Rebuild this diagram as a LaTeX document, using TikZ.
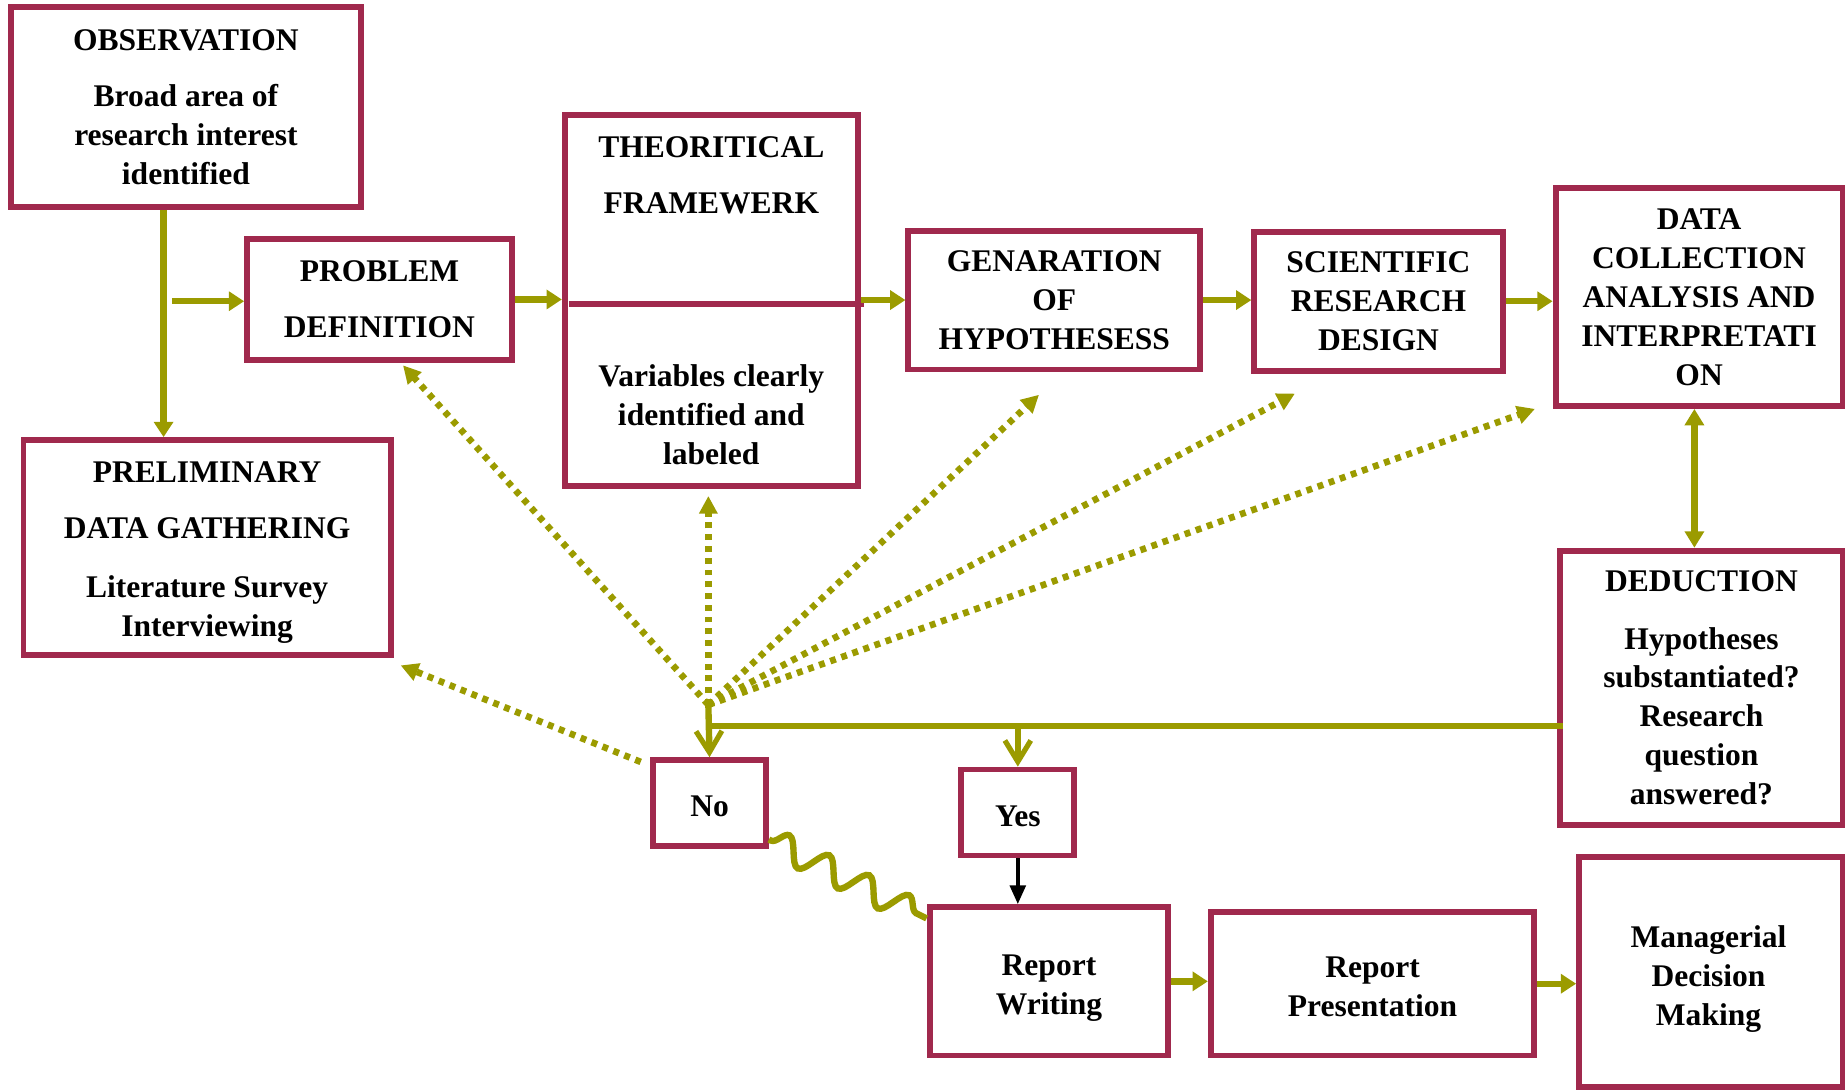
\documentclass[tikz,border=0pt]{standalone}
\usepackage{fontspec}
\setmainfont{Liberation Serif}
\usetikzlibrary{arrows.meta,calc,decorations.pathmorphing}
\definecolor{maroonc}{HTML}{A0294D}
\definecolor{olivec}{HTML}{9B9B00}
\begin{document}
\begin{tikzpicture}[x=0.5pt,y=-0.5pt,
  txt/.style={inner sep=0pt,align=center,font=\fontsize{13.4}{16.5}\selectfont\bfseries},
  box/.style={txt,draw=maroonc,line width=2.5pt},
  arr/.style={draw=olivec,line width=2.7pt,-{Triangle[length=6.5pt,width=8pt]}},
  dblarr/.style={draw=olivec,line width=2.7pt,{Triangle[length=7pt,width=8pt]}-{Triangle[length=7pt,width=8pt]}},
  oline/.style={draw=olivec,line width=2.7pt},
  openarr/.style={draw=olivec,line width=2.7pt,-{Straight Barb[length=9pt,width=11pt,line width=2.2pt]}},
  blackarr/.style={draw=black,line width=1.8pt,-{Triangle[length=8pt,width=6.5pt]}},
  dotarr/.style={draw=olivec,line width=2.8pt,dash pattern=on 2.5pt off 2.5pt,-{Triangle[length=7.5pt,width=7.5pt]}},
  wavy/.style={draw=olivec,line width=2.7pt,decorate,decoration={snake,segment length=19pt,amplitude=5.5pt,pre length=1pt,post length=1pt}}
]
\useasboundingbox (0,0) rectangle (1568,927);

% boxes
\node[box,minimum width=149pt,minimum height=85pt] (obs) at (158,91)
  {OBSERVATION\\[7.5pt]Broad area of\\research interest\\identified};
\node[box,minimum width=112.5pt,minimum height=51.5pt] (prob) at (322.5,254.5)
  {PROBLEM\\[7.5pt]DEFINITION};
\node[box,minimum width=124.5pt,minimum height=157.5pt] (theo) at (604.5,255.5)
  {THEORITICAL\\[7.5pt]FRAMEWERK\\[57pt]Variables clearly\\identified and\\labeled};
\node[box,minimum width=124pt,minimum height=59pt] (gen) at (896,255)
  {GENARATION\\OF\\HYPOTHESESS};
\node[box,minimum width=105.5pt,minimum height=59pt] (sci) at (1171.5,256)
  {SCIENTIFIC\\RESEARCH\\DESIGN};
\node[box,minimum width=122pt,minimum height=92.5pt] (data) at (1444,252.5)
  {DATA\\COLLECTION\\ANALYSIS AND\\INTERPRETATI\\ON};
\node[box,minimum width=156pt,minimum height=91.5pt] (prel) at (176,465.5) {};
\node[txt] (prelt) at ($(prel.center)+(0,4)$)
  {PRELIMINARY\\[7.5pt]DATA GATHERING\\[8.5pt]Literature Survey\\Interviewing};
\node[box,minimum width=120pt,minimum height=116.5pt] (ded) at (1446,584.5)
  {DEDUCTION\\[8pt]Hypotheses\\substantiated?\\Research\\question\\answered?};
\node[box,minimum width=48pt,minimum height=36.5pt] (no) at (603,682.5) {};
\node[txt] (not) at ($(no.center)+(0,3)$) {No};
\node[box,minimum width=48pt,minimum height=36.5pt] (yes) at (865,690.5) {};
\node[txt] (yest) at ($(yes.center)+(0,3)$) {Yes};
\node[box,minimum width=101.5pt,minimum height=63pt] (rw) at (891.5,834) {};
\node[txt] (rwt) at ($(rw.center)+(0,6)$) {Report\\Writing};
\node[box,minimum width=137.5pt,minimum height=61pt] (rp) at (1166.5,836) {};
\node[txt] (rpt) at ($(rp.center)+(0,3)$) {Report\\Presentation};
\node[box,minimum width=112pt,minimum height=98pt] (mdm) at (1454,826) {};
\node[txt] (mdmt) at ($(mdm.center)+(-2,6)$) {Managerial\\Decision\\Making};

% divider in theoretical framework box
\draw[draw=maroonc,line width=2.5pt] ($(theo.west)+(6,2.5)$) -- ($(theo.east)+(3,2.5)$);

% main flow
\coordinate (vx) at (139,0);
\draw[arr] (obs.south -| vx) -- (prel.north -| vx);
\coordinate (hs) at (146,256);
\draw[arr] (hs) -- (hs -| prob.west);
\draw[arr] (prob.east) -- (prob.east -| theo.west);
\draw[arr] (theo.east |- gen.west) -- (gen.west);
\draw[arr] (gen.east) -- (gen.east -| sci.west);
\draw[arr] (sci.east) -- (sci.east -| data.west);
\coordinate (dx) at (1440,0);
\draw[dblarr] (data.south -| dx) -- (ded.north -| dx);

% feedback from deduction
\coordinate (fb) at (603,617);
\coordinate (fan) at (602,599);
\draw[oline] ($(ded.west |- fb)+(5,0)$) -- (fb);
\draw[openarr] (fan) -- (no.north);
\draw[openarr] (yes.north |- fb) -- (yes.north);
\draw[blackarr] (yes.south) -- (yes.south |- rw.north);
\draw[wavy] ($(no.south east)+(0,-8)$) -- ($(rw.north west)+(0,12)$);
\draw[arr] (rw.east) -- (rw.east -| rp.west);
\draw[arr] (rp.east) -- (rp.east -| mdm.west);

% dotted returns
\draw[dotarr] (fan) -- ($(prob.south)+(20,2)$);
\draw[dotarr] (fan) -- ($(fan |- theo.south)+(0,6)$);
\draw[dotarr] (fan) -- ($(gen.south)+(-13,19)$);
\draw[dotarr] (fan) -- ($(sci.south)+(-71,17)$);
\draw[dotarr] (fan) -- ($(data.south west)+(-15,0)$);
\draw[dotarr] ($(no.north west)+(-8,4)$) -- ($(prel.south east)+(6,6)$);
\end{tikzpicture}
\end{document}
